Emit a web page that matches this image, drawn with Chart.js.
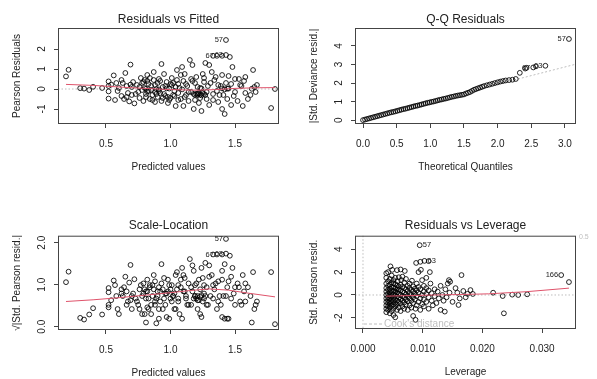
<!DOCTYPE html>
<html>
<head>
<meta charset="utf-8">
<script src="https://cdn.jsdelivr.net/npm/chart.js@4.4.0/dist/chart.umd.min.js"></script>
<style>
  html, body { margin: 0; padding: 0; background: #fff; }
  #wrap { position: relative; width: 597px; height: 379px; }
  canvas { position: absolute; }
</style>
</head>
<body>
<div id="wrap">
  <canvas id="c1" width="297" height="190" style="left:0;top:0"></canvas>
  <canvas id="c2" width="300" height="190" style="left:297px;top:0"></canvas>
  <canvas id="c3" width="297" height="189" style="left:0;top:190px"></canvas>
  <canvas id="c4" width="300" height="189" style="left:297px;top:190px"></canvas>
</div>
<script>
// fitted values, shared by "Residuals vs Fitted" and "Scale-Location"
const fitted = [
  0.19,0.21,0.30,0.33,0.37,0.40,0.47,0.52,0.52,0.52,
  0.52,0.54,0.56,0.57,0.59,0.60,0.62,0.63,0.64,0.65,
  0.66,0.67,0.68,0.69,0.70,0.70,0.71,0.72,0.74,0.75,
  0.76,0.77,0.78,0.78,0.79,0.80,0.80,0.81,0.82,0.82,
  0.83,0.84,0.85,0.86,0.87,0.87,0.88,0.89,0.90,0.90,
  0.91,0.92,0.93,0.93,0.94,0.95,0.96,0.97,0.98,0.99,
  1.00,1.00,1.01,1.02,1.03,1.04,1.05,1.05,1.06,1.07,
  1.08,1.09,1.10,1.10,1.11,1.12,1.13,1.14,1.15,1.16,
  1.16,1.17,1.18,1.19,1.20,1.20,1.21,1.22,1.22,1.23,
  1.24,1.25,1.25,1.26,1.27,1.28,1.29,1.30,1.30,1.32,
  1.33,1.34,1.33,1.36,1.37,1.38,1.36,1.40,1.40,1.40,
  1.42,1.43,1.43,1.44,1.45,1.47,1.47,1.48,1.49,1.50,
  1.52,1.53,1.55,1.56,1.57,1.58,1.58,1.62,1.64,1.65,
  1.66,1.67,1.78,1.81,1.43,1.46,1.40,1.42,1.44,1.63,
  1.24,1.09,0.81,0.91,0.97,1.18,1.19,1.21,1.23,1.24,
  1.26,1.27,0.82,0.85,0.88,0.91,0.95,0.98,1.02,1.04,
  1.06,0.58,0.62,0.66,0.69,0.73,0.76,0.79,0.81,0.83,
  0.84,0.86,0.88,0.89,0.92,0.94,0.96,0.99,1.01,1.03,
  1.06,1.08,1.11,1.12,1.14,1.17,1.19,1.21,1.23,1.26,
  1.28,1.31,1.33,1.35,1.37,1.39,1.41,1.45,1.50,1.54,
  1.60
];
const pearsonRes = [
  0.63,0.96,0.04,0.02,-0.05,0.11,0.05,0.15,0.38,-0.12,
  -0.48,0.22,0.68,-0.55,-0.10,0.05,-0.35,0.30,-0.50,0.80,
  0.15,-0.20,-0.62,1.22,0.10,-0.30,0.35,-0.72,0.20,-0.15,
  -0.45,0.55,0.30,-0.05,-0.60,0.45,0.05,-0.25,0.70,0.40,
  -0.10,-0.50,0.15,-0.30,0.85,0.45,-0.65,0.00,0.30,-0.40,
  0.50,-0.20,1.25,-0.60,0.10,0.75,-0.35,0.35,-0.70,0.02,
  0.25,-0.45,0.20,-0.30,-0.10,-0.85,0.95,0.45,-0.20,0.05,
  -0.50,1.10,0.40,-0.85,0.75,-0.30,0.15,-0.60,1.45,0.50,
  -0.15,1.20,-1.00,0.30,-0.25,0.60,-0.30,-0.22,-0.70,0.05,
  -1.10,0.75,-0.20,0.35,1.30,-0.50,0.15,-0.80,1.20,0.85,
  -0.55,0.45,1.66,-0.10,0.20,-0.30,1.66,-1.00,0.70,1.66,
  -1.25,2.45,0.30,-0.50,0.02,-0.80,0.25,1.10,-0.35,0.50,
  -0.60,0.50,0.15,-0.85,0.40,0.60,-0.20,-0.30,0.95,0.10,
  -0.15,0.20,-0.95,0.00,1.70,1.60,0.03,-0.02,0.02,0.01,
  0.03,-0.02,0.01,-0.02,0.03,-0.25,-0.30,-0.22,-0.28,-0.32,
  -0.25,-0.30,-0.12,-0.05,-0.15,-0.10,-0.25,-0.40,0.30,0.10,
  -0.55,0.30,0.45,-0.40,0.22,-0.25,0.10,0.35,-0.40,0.25,
  0.55,-0.55,0.20,-0.25,0.40,-0.45,0.15,-0.55,0.55,-0.35,
  0.25,0.70,-0.40,0.25,-0.15,0.40,-0.55,0.10,-0.45,0.55,
  -0.15,0.30,-0.25,0.60,-0.65,0.15,-0.30,0.65,-0.15,0.20,
  -0.50
];
const sqrtStdRes = [
  1.06,1.31,0.21,0.17,0.29,0.44,0.29,0.52,0.82,0.46,
  0.92,0.63,1.10,0.99,0.42,0.30,0.79,0.73,0.94,1.19,
  0.52,0.60,1.05,1.47,0.42,0.73,0.79,1.13,0.60,0.52,
  0.89,0.99,0.73,0.30,1.03,0.89,0.30,0.67,1.12,0.84,
  0.42,0.94,0.52,0.73,1.23,0.89,1.08,0.08,0.73,0.84,
  0.94,0.60,1.49,1.03,0.42,1.16,0.79,0.79,1.12,0.19,
  0.67,0.89,0.60,0.73,0.42,1.23,1.30,0.89,0.60,0.30,
  0.94,1.40,0.84,1.23,1.16,0.73,0.52,1.03,1.61,0.94,
  0.52,1.46,1.33,0.73,0.67,1.03,0.73,0.63,1.12,0.30,
  1.40,1.16,0.60,0.79,1.52,0.94,0.52,1.19,1.46,1.23,
  0.99,0.89,1.72,0.42,0.60,0.73,1.72,1.33,1.12,1.72,
  1.49,2.09,0.73,0.94,0.19,1.19,0.67,1.40,0.79,0.94,
  1.03,0.94,0.52,1.23,0.84,1.03,0.60,0.73,1.30,0.42,
  0.52,0.60,1.30,0.06,1.74,1.69,0.23,0.19,0.19,0.10,
  0.23,0.19,0.10,0.19,0.23,0.67,0.73,0.63,0.71,0.75,
  0.67,0.73,0.46,0.30,0.52,0.42,0.67,0.84,0.73,0.42,
  0.99,0.73,0.89,0.84,0.63,0.67,0.42,0.79,0.84,0.67,
  0.99,0.99,0.60,0.67,0.84,0.89,0.52,0.99,0.99,0.79,
  0.67,1.12,0.84,0.67,0.52,0.84,0.99,0.42,0.89,0.99,
  0.52,0.73,0.67,1.03,1.08,0.52,0.73,1.08,0.52,0.60,
  0.94
];
const lowessFitted = [[0.19,0.23],[0.4,0.18],[0.6,0.1],[0.8,0.03],[1.0,-0.03],[1.2,-0.06],[1.35,-0.03],[1.5,0.03],[1.65,0.06],[1.81,0.07]];
const lowessScale = [[0.19,0.6],[0.4,0.64],[0.6,0.69],[0.8,0.75],[1.0,0.81],[1.15,0.86],[1.3,0.9],[1.45,0.87],[1.6,0.8],[1.81,0.71]];

// half-normal Q-Q
const qqTheo = [
  0.00,0.03,0.06,0.09,0.12,0.15,0.18,0.21,0.24,0.27,
  0.30,0.33,0.36,0.39,0.42,0.45,0.48,0.51,0.54,0.57,
  0.60,0.63,0.66,0.69,0.72,0.75,0.78,0.81,0.84,0.87,
  0.90,0.93,0.96,0.99,1.02,1.05,1.08,1.11,1.14,1.17,
  1.20,1.23,1.26,1.29,1.32,1.35,1.38,1.41,1.44,1.47,
  1.50,1.53,1.56,1.59,1.62,1.65,1.68,1.71,1.74,1.77,
  1.80,1.84,1.88,1.92,1.96,2.00,2.04,2.08,2.12,2.17,
  2.22,2.27,2.33,2.41,2.43,2.53,2.57,2.71,3.06
];
const qqAbsRes = [
  0.01,0.04,0.07,0.10,0.13,0.16,0.19,0.22,0.25,0.28,
  0.31,0.34,0.37,0.40,0.43,0.45,0.48,0.51,0.54,0.57,
  0.60,0.62,0.65,0.68,0.71,0.74,0.77,0.79,0.82,0.85,
  0.88,0.91,0.94,0.96,0.99,1.01,1.04,1.07,1.10,1.12,
  1.15,1.17,1.20,1.23,1.26,1.28,1.31,1.33,1.35,1.37,
  1.39,1.44,1.48,1.52,1.58,1.64,1.68,1.72,1.76,1.80,
  1.84,1.88,1.92,1.96,2.00,2.04,2.08,2.11,2.14,2.16,
  2.18,2.22,2.55,2.78,2.82,2.84,2.90,2.93,4.37
];
const qqLine = [[0,0.08],[3.2,3.05]];

// leverage vs std. pearson residual
const levPts = [
  [0.0039,-1.5],[0.0039,-1.2],[0.0039,-0.9],[0.0039,-0.6],[0.0039,-0.3],[0.0039,0.0],[0.0039,0.3],[0.0039,0.6],[0.0039,1.0],[0.0039,1.5],[0.0039,1.9],
  [0.0042,-1.3],[0.0042,-1.0],[0.0042,-0.7],[0.0042,-0.45],[0.0042,-0.2],[0.0042,0.1],[0.0042,0.45],[0.0042,0.8],[0.0042,1.2],[0.0042,2.0],
  [0.0045,-1.6],[0.0045,-1.1],[0.0045,-0.8],[0.0045,-0.55],[0.0045,-0.3],[0.0045,-0.05],[0.0045,0.25],[0.0045,0.55],[0.0045,0.9],[0.0045,1.4],[0.0046,2.5],
  [0.0048,-1.4],[0.0048,-0.95],[0.0048,-0.65],[0.0048,-0.4],[0.0048,-0.1],[0.0048,0.15],[0.0048,0.4],[0.0048,0.7],[0.0048,1.1],[0.0048,1.7],[0.0049,2.2],
  [0.0051,-1.75],[0.0051,-1.2],[0.0051,-0.85],[0.0051,-0.5],[0.0051,-0.2],[0.0051,0.05],[0.0051,0.35],[0.0051,0.65],[0.0051,1.0],[0.0051,1.3],
  [0.0054,-1.95],[0.0054,-1.0],[0.0054,-0.7],[0.0054,-0.35],[0.0054,0.0],[0.0054,0.3],[0.0054,0.6],[0.0054,0.95],[0.0054,1.5],
  [0.0057,-1.3],[0.0057,-0.8],[0.0057,-0.5],[0.0057,-0.15],[0.0057,0.2],[0.0057,0.5],[0.0057,0.85],[0.0057,2.17],[0.0058,1.2],
  [0.0060,-1.1],[0.0060,-0.6],[0.0060,-0.25],[0.0060,0.1],[0.0060,0.45],[0.0060,0.75],[0.0060,1.55],
  [0.0063,-1.4],[0.0063,-0.75],[0.0063,-0.35],[0.0063,0.0],[0.0063,0.4],[0.0063,0.9],[0.0063,2.23],[0.0064,1.3],
  [0.0066,-1.0],[0.0066,-0.5],[0.0066,-0.1],[0.0066,0.3],[0.0066,0.7],[0.0066,1.6],
  [0.0069,-1.2],[0.0069,-0.65],[0.0069,-0.2],[0.0069,0.2],[0.0069,0.6],[0.0069,1.1],[0.0070,2.1],
  [0.0072,-0.85],[0.0072,-0.4],[0.0072,0.05],[0.0072,0.5],[0.0072,1.4],
  [0.0075,-1.3],[0.0075,-0.55],[0.0075,-0.1],[0.0075,0.35],[0.0075,0.8],
  [0.0078,-0.9],[0.0078,-0.3],[0.0078,0.15],[0.0078,0.6],[0.0078,1.0],
  [0.0081,-1.1],[0.0081,-0.5],[0.0081,0.0],[0.0081,0.45],[0.0082,1.25],
  [0.0084,-1.83],[0.0084,-0.7],[0.0084,-0.2],[0.0084,0.3],[0.0084,0.75],
  [0.0087,-0.4],[0.0087,0.1],[0.0087,0.55],[0.0088,-2.17],[0.0089,2.8],[0.0088,-1.2],
  [0.0090,-0.9],[0.0090,-0.1],[0.0090,0.4],[0.0090,1.0],[0.0093,2.0],[0.0096,2.9],[0.0097,2.2],[0.0095,4.35],
  [0.0093,-0.6],[0.0093,0.2],[0.0093,0.7],[0.0096,-1.3],[0.0096,-0.3],[0.0096,0.5],
  [0.0099,-0.8],[0.0099,0.0],[0.0099,1.3],[0.0103,2.98],[0.0110,2.96],[0.0112,2.0],
  [0.0102,-1.0],[0.0102,-0.4],[0.0102,0.3],[0.0102,0.8],
  [0.0106,-0.6],[0.0106,0.1],[0.0106,0.6],[0.0106,1.5],
  [0.0110,-1.2],[0.0110,-0.2],[0.0110,0.4],[0.0113,1.0],
  [0.0115,-0.5],[0.0115,0.15],[0.0117,-0.9],[0.0120,0.5],[0.0120,-0.1],[0.0123,-0.7],
  [0.0125,0.3],[0.0127,-0.3],[0.0130,0.8],[0.0130,-1.3],[0.0133,0.0],[0.0135,-0.5],
  [0.0137,-1.45],[0.0138,0.5],[0.0140,-0.2],[0.0142,1.0],[0.0144,1.3],[0.0146,1.16],[0.0145,0.2],
  [0.0150,-0.6],[0.0155,0.6],[0.0158,0.2],[0.0160,-0.87],[0.0162,-0.3],[0.0165,1.74],[0.0168,0.35],
  [0.0172,-0.2],[0.0175,0.1],[0.0180,0.43],[0.0184,0.09],
  [0.0218,0.2],[0.0234,-0.09],[0.0236,-1.6],[0.0250,0.03],[0.0260,0.0],[0.0275,0.06],[0.0332,1.74],[0.0345,1.13]
];
const lowessLev = [[0.0039,-0.1],[0.008,-0.05],[0.012,0.0],[0.016,0.04],[0.021,0.1],[0.0274,0.29],[0.0345,0.6]];

// labelled observations [x, y, id, side]
const ids1 = [[1.43,2.45,'57','l'],[1.36,1.66,'67','l'],[1.43,1.70,'63','l']];
const ids2 = [[3.06,4.37,'57','l'],[2.71,2.93,'63','l'],[2.53,2.84,'67','l']];
const ids3 = [[1.43,2.09,'57','l'],[1.36,1.72,'67','l'],[1.43,1.74,'63','l']];
const ids4 = [[0.0095,4.35,'57','r'],[0.0103,2.98,'63','r'],[0.0332,1.74,'166','l']];

// tick labels
const fittedTicks = [0.5, 1.0, 1.5];
const residTicks = [-1, 0, 1, 2];
const qqXTicks = [0, 0.5, 1.0, 1.5, 2.0, 2.5, 3.0];
const qqYTicks = [0, 1, 2, 3, 4];
const scaleYTicks = [0, 1, 2];
const levXTicks = [0, 0.01, 0.02, 0.03];
const levYTicks = [-2, 0, 2, 4];

const FONT = '"Liberation Sans", Arial, Helvetica, sans-serif';
const RED = '#DF536B';
const GREY = '#BEBEBE';
const INK = '#222';

const xy = (xs, ys) => xs.map((v, i) => ({ x: v, y: ys[i] }));
const pairs = a => a.map(p => ({ x: p[0], y: p[1] }));

function pointSet(data) {
  return {
    data: data, showLine: false,
    pointRadius: 2.4, pointBorderWidth: 1,
    pointBorderColor: 'rgba(0,0,0,0.85)', pointBackgroundColor: 'rgba(0,0,0,0)'
  };
}
function lineSet(data, color, dash) {
  return {
    data: pairs(data), showLine: true, pointRadius: 0,
    borderColor: color, borderWidth: 1, borderDash: dash || [], fill: false
  };
}

function axis(min, max, ticks, digits, which, size) {
  return {
    type: 'linear', min: min, max: max, position: which === 'x' ? 'bottom' : 'left',
    afterBuildTicks: s => { s.ticks = ticks.map(v => ({ value: v })); },
    afterFit: s => { if (which === 'x') s.height = size; else s.width = size; },
    ticks: {
      display: which === 'x', autoSkip: false, maxRotation: 0, padding: 10,
      color: INK, font: { family: FONT, size: 10 },
      callback: v => Number(v).toFixed(digits)
    },
    grid: { drawOnChartArea: false, drawTicks: true, tickLength: 4, color: '#444', lineWidth: 1 },
    border: { display: false }
  };
}

// R style decorations: box, titles, rotated y labels, ids
function rDecor(o) {
  return {
    id: 'rDecor',
    beforeDatasetsDraw(chart) {
      const { ctx, chartArea: a, scales: { x, y } } = chart;
      ctx.save();
      ctx.strokeStyle = GREY; ctx.lineWidth = 1; ctx.setLineDash([1.5, 2]);
      if (o.hZero) {
        const py = y.getPixelForValue(0);
        ctx.beginPath(); ctx.moveTo(a.left, py); ctx.lineTo(a.right, py); ctx.stroke();
      }
      if (o.vZero) {
        const px = x.getPixelForValue(0);
        ctx.beginPath(); ctx.moveTo(px, a.top); ctx.lineTo(px, a.bottom); ctx.stroke();
      }
      ctx.restore();
    },
    afterDraw(chart) {
      const { ctx, chartArea: a, scales: { x, y } } = chart;
      ctx.save();
      ctx.strokeStyle = '#444'; ctx.lineWidth = 1;
      ctx.strokeRect(a.left + 0.5, a.top + 0.5, a.right - a.left - 1, a.bottom - a.top - 1);

      ctx.fillStyle = INK;
      ctx.textAlign = 'center'; ctx.textBaseline = 'middle';
      ctx.font = '12px ' + FONT;
      ctx.fillText(o.title, (a.left + a.right) / 2, a.top - o.titleGap);
      ctx.font = '10px ' + FONT;
      ctx.fillText(o.xTitle, (a.left + a.right) / 2, a.bottom + 43);

      ctx.save();
      ctx.translate(a.left - 41, (a.top + a.bottom) / 2);
      ctx.rotate(-Math.PI / 2);
      ctx.fillText(o.yTitle, 0, 0);
      ctx.restore();

      o.yTicks.forEach(v => {
        ctx.save();
        ctx.translate(a.left - 16, y.getPixelForValue(v));
        ctx.rotate(-Math.PI / 2);
        ctx.fillText(v.toFixed(o.yDigits), 0, 0);
        ctx.restore();
      });

      ctx.font = '7.5px ' + FONT;
      o.ids.forEach(d => {
        const px = x.getPixelForValue(d[0]), py = y.getPixelForValue(d[1]);
        ctx.textAlign = d[3] === 'l' ? 'right' : 'left';
        ctx.fillText(d[2], d[3] === 'l' ? px - 3 : px + 3, py);
      });
      if (o.extra) o.extra(ctx, a);
      ctx.restore();
    }
  };
}

function rPanel(id, o, datasets) {
  const canvas = document.getElementById(id);
  return new Chart(canvas, {
    type: 'scatter',
    data: { datasets: datasets },
    options: {
      responsive: false, animation: false,
      layout: { padding: { left: 0, right: canvas.width - 279, top: o.top, bottom: 0 } },
      plugins: { legend: { display: false }, tooltip: { enabled: false }, title: { display: false } },
      scales: {
        x: axis(o.xMin, o.xMax, o.xTicks, o.xDigits, 'x', canvas.height - o.bottom),
        y: axis(o.yMin, o.yMax, o.yTicks, o.yDigits, 'y', 58)
      }
    },
    plugins: [rDecor(o)]
  });
}

rPanel('c1', {
  title: 'Residuals vs Fitted', xTitle: 'Predicted values', yTitle: 'Pearson Residuals',
  xMin: 0.128, xMax: 1.841, yMin: -1.75, yMax: 3.05,
  xTicks: fittedTicks, xDigits: 1, yTicks: residTicks, yDigits: 0,
  top: 28, bottom: 124, titleGap: 8, hZero: true, ids: ids1
}, [lineSet(lowessFitted, RED), pointSet(xy(fitted, pearsonRes))]);

rPanel('c2', {
  title: 'Q-Q Residuals', xTitle: 'Theoretical Quantiles', yTitle: '|Std. Deviance resid.|',
  xMin: -0.119, xMax: 3.165, yMin: -0.2, yMax: 4.96,
  xTicks: qqXTicks, xDigits: 1, yTicks: qqYTicks, yDigits: 0,
  top: 28, bottom: 124, titleGap: 8, ids: ids2
}, [pointSet(xy(qqTheo, qqAbsRes)), lineSet(qqLine, GREY, [2, 2])]);

rPanel('c3', {
  title: 'Scale-Location', xTitle: 'Predicted values', yTitle: '\u221A|Std. Pearson resid.|',
  xMin: 0.128, xMax: 1.841, yMin: -0.079, yMax: 2.167,
  xTicks: fittedTicks, xDigits: 1, yTicks: scaleYTicks, yDigits: 1,
  top: 45.7, bottom: 140, titleGap: 10, ids: ids3
}, [lineSet(lowessScale, RED), pointSet(xy(fitted, sqrtStdRes))]);

rPanel('c4', {
  title: 'Residuals vs Leverage', xTitle: 'Leverage', yTitle: 'Std. Pearson resid.',
  xMin: -0.00134, xMax: 0.03568, yMin: -2.97, yMax: 5.18,
  xTicks: levXTicks, xDigits: 3, yTicks: levYTicks, yDigits: 0,
  top: 45.7, bottom: 139, titleGap: 10, hZero: true, vZero: true, ids: ids4,
  extra: (ctx, a) => {
    ctx.strokeStyle = GREY; ctx.lineWidth = 1; ctx.setLineDash([3, 2]);
    ctx.beginPath(); ctx.moveTo(a.left + 9, a.bottom - 5); ctx.lineTo(a.left + 27, a.bottom - 5); ctx.stroke();
    ctx.fillStyle = GREY; ctx.textAlign = 'left';
    ctx.font = '10px ' + FONT;
    ctx.fillText("Cook's distance", a.left + 29, a.bottom - 5);
    ctx.font = '7px ' + FONT;
    ctx.fillText('0.5', a.right + 3, a.top + 1);
  }
}, [lineSet(lowessLev, RED), pointSet(pairs(levPts))]);
</script>
</body>
</html>
